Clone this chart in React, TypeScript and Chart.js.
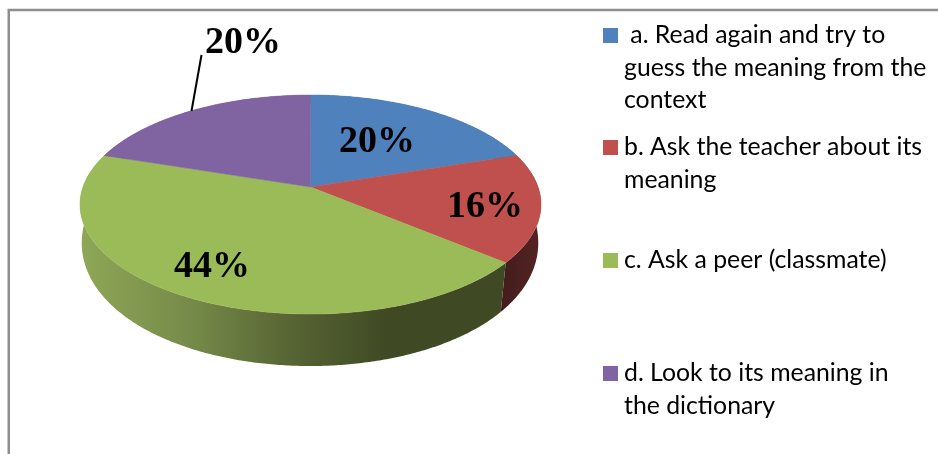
import React, { useEffect, useRef } from "react";
import { Chart, registerables } from "chart.js";

Chart.register(...registerables);

// ---- data ----
const categories = [
  " a. Read again and try to guess the meaning from the context",
  "b. Ask the teacher about its meaning",
  "c. Ask a peer (classmate)",
  "d. Look to its meaning in the dictionary",
];
const shares = [20, 16, 44, 20];
const percentLabels = ["20%", "16%", "44%", "20%"];
const legendLines = [
  [" a. Read again and try to", "guess the meaning from the", "context"],
  ["b. Ask the teacher about its", "meaning"],
  ["c. Ask a peer (classmate)"],
  ["d. Look to its meaning in", "the dictionary"],
];

// ---- styles and layout ----
const topColors = ["#4f81bd", "#c0504d", "#9bbb59", "#8064a2"];
const wallStops: [number, string][][] = [
  [[0, "#3a5a80"], [1, "#3a5a80"]],
  [[0, "#421c1c"], [1, "#552424"]],
  [[0, "#8ea656"], [0.25, "#768b49"], [0.5, "#566333"], [0.72, "#3f4a24"], [1, "#3f4a24"]],
  [[0, "#6b5488"], [1, "#6b5488"]],
];
const labelPos = [
  { x: 339, y: 152 },
  { x: 447, y: 217 },
  { x: 174, y: 277 },
  { x: 205, y: 53 },
];
const legendBlocks = [
  { box: 28, base: 43 },
  { box: 140, base: 155 },
  { box: 253, base: 268 },
  { box: 366, base: 381 },
];
const LINE = 32.5;
const topFace = { cx: 310.5, y: 187, a: 106.7, b: 227.5, k: 0.16, bSlope: 0 };
const bottomFace = { cx: 310, y: 224.5, a: 130.2, b: 226, k: 0.08, bSlope: 14 };

type Face = typeof topFace;
const project = (f: Face, t: number) => {
  const u = Math.sin(t);
  const v = Math.cos(t);
  const d = 1 + f.k * v;
  const b = f.b + Math.max(0, -v) * f.bSlope;
  return { x: f.cx + (b * u) / d, y: f.y - (f.a * v) / d };
};
const arcPoints = (f: Face, s: number, e: number) => {
  const n = Math.max(2, Math.ceil((e - s) / 0.01));
  const pts = [];
  for (let i = 0; i <= n; i++) pts.push(project(f, s + ((e - s) * i) / n));
  return pts;
};

const pie3d = {
  id: "pie3d",
  beforeDatasetsDraw(chart: any) {
    const ctx = chart.ctx;
    const arcs = chart.getDatasetMeta(0).data;
    const span = (a: any) => [a.startAngle + Math.PI / 2, a.endAngle + Math.PI / 2];
    ctx.save();
    // walls
    arcs.forEach((arc: any, i: number) => {
      const [s, e] = span(arc);
      const top = arcPoints(topFace, s, e);
      const bot = arcPoints(bottomFace, s, e).reverse();
      const xs = top.concat(bot).map((p: any) => p.x);
      const g = i === 2
        ? ctx.createLinearGradient(84, 0, 505, 0)
        : ctx.createLinearGradient(Math.min(...xs), 0, Math.max(...xs), 0);
      wallStops[i].forEach(([o, c]) => g.addColorStop(o, c));
      ctx.fillStyle = g;
      ctx.beginPath();
      top.concat(bot).forEach((p: any, j: number) => (j ? ctx.lineTo(p.x, p.y) : ctx.moveTo(p.x, p.y)));
      ctx.closePath();
      ctx.fill();
    });
    // top faces
    arcs.forEach((arc: any, i: number) => {
      const [s, e] = span(arc);
      ctx.fillStyle = topColors[i];
      ctx.strokeStyle = topColors[i];
      ctx.lineWidth = 0.5;
      ctx.beginPath();
      ctx.moveTo(topFace.cx, topFace.y);
      arcPoints(topFace, s, e).forEach((p: any) => ctx.lineTo(p.x, p.y));
      ctx.closePath();
      ctx.fill();
      ctx.stroke();
    });
    ctx.restore();
    return false;
  },
  afterDraw(chart: any) {
    const ctx = chart.ctx;
    ctx.save();
    // frame
    ctx.strokeStyle = "#8e8e8e";
    ctx.lineWidth = 2.5;
    ctx.beginPath();
    ctx.moveTo(938, 10);
    ctx.lineTo(8.75, 10);
    ctx.lineTo(8.75, 454);
    ctx.stroke();
    // leader line
    ctx.strokeStyle = "#000";
    ctx.lineWidth = 2;
    ctx.beginPath();
    ctx.moveTo(201.5, 55);
    ctx.lineTo(191.5, 111);
    ctx.stroke();
    // percentages
    ctx.fillStyle = "#000";
    ctx.font = 'bold 38px "Liberation Serif"';
    ctx.textAlign = "left";
    ctx.textBaseline = "alphabetic";
    percentLabels.forEach((t, i) => ctx.fillText(t, labelPos[i].x, labelPos[i].y));
    // legend
    ctx.font = '24.8px Lato';
    legendLines.forEach((lines, i) => {
      ctx.fillStyle = topColors[i];
      ctx.fillRect(603, legendBlocks[i].box, 15, 15);
      ctx.fillStyle = "#000";
      lines.forEach((t, j) => ctx.fillText(t, 624, legendBlocks[i].base + j * LINE));
    });
    ctx.restore();
  },
};

export default function App() {
  const ref = useRef<HTMLCanvasElement>(null);
  useEffect(() => {
    const chart = new Chart(ref.current!, {
      type: "pie",
      data: {
        labels: categories,
        datasets: [{ data: shares, backgroundColor: topColors, borderWidth: 0 }],
      },
      options: {
        animation: false,
        responsive: false,
        plugins: { legend: { display: false }, tooltip: { enabled: false } },
      },
      plugins: [pie3d],
    } as any);
    return () => chart.destroy();
  }, []);
  return (
    <canvas
      ref={ref}
      width={938}
      height={454}
      style={{ position: "fixed", left: 0, top: 0, width: 938, height: 454, background: "#fff" }}
    />
  );
}
